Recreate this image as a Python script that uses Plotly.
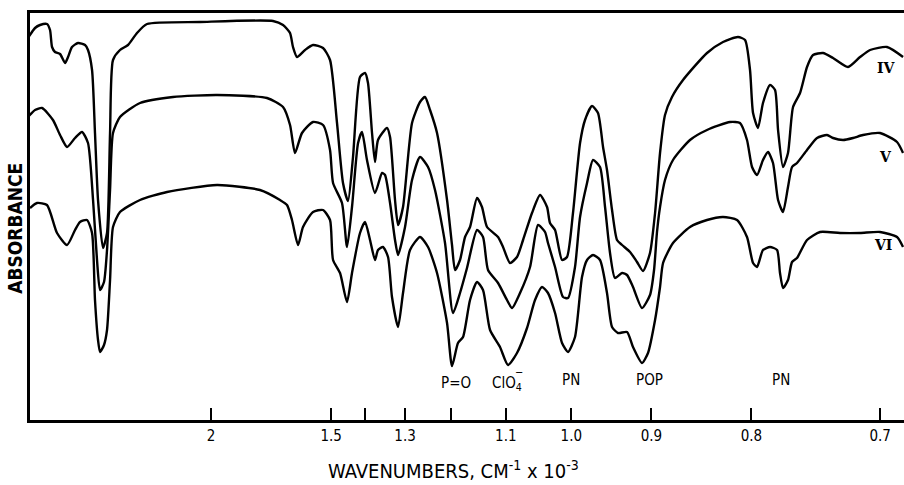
import plotly.graph_objects as go

# Spectra (x = wavelength in micrometres, i.e. 10 / (wavenumber x 10^-3);
# y = relative absorbance trace height, arbitrary units)
iv_x = [2.459, 2.557, 2.626, 2.723, 2.765, 2.793, 2.834, 2.904, 2.973, 3.015, 3.070, 3.153, 3.251, 3.292,
        3.348, 3.389, 3.431, 3.500, 3.556, 3.598, 3.639, 3.736, 3.847, 3.972, 4.111, 4.847, 5.860, 5.999,
        6.096, 6.137, 6.193, 6.304, 6.415, 6.554, 6.651, 6.748, 6.831, 6.901, 6.970, 7.067, 7.137, 7.178,
        7.234, 7.275, 7.317, 7.442, 7.484, 7.553, 7.595, 7.664, 7.789, 7.900, 7.969, 8.039, 8.136, 8.275,
        8.344, 8.386, 8.455, 8.525, 8.594, 8.691, 8.760, 8.830, 8.983, 9.052, 9.149, 9.246, 9.330, 9.454,
        9.566, 9.663, 9.704, 9.774, 9.871, 9.940, 10.023, 10.121, 10.190, 10.287, 10.370, 10.440, 10.495,
        10.565, 10.634, 10.704, 10.815, 10.912, 10.995, 11.092, 11.162, 11.231, 11.300, 11.397, 11.550,
        11.883, 12.105, 12.313, 12.411, 12.480, 12.522, 12.591, 12.660, 12.758, 12.827, 12.869, 12.938,
        13.007, 13.077, 13.174, 13.271, 13.354, 13.493, 13.632, 13.840, 14.007, 14.146, 14.381, 14.604]
iv_y = [382, 392, 395, 396, 390, 373, 368, 366, 357, 363, 373, 377, 375, 370,
        350, 287, 220, 172, 187, 287, 360, 370, 375, 387, 396, 398, 399, 395,
        387, 373, 363, 370, 375, 372, 360, 297, 237, 219, 263, 343, 347, 337,
        287, 258, 280, 292, 283, 220, 195, 213, 297, 318, 323, 310, 287, 220,
        175, 150, 160, 183, 193, 222, 213, 193, 183, 173, 157, 163, 180, 207,
        225, 213, 197, 190, 160, 163, 207, 277, 300, 314, 307, 273, 250,
        210, 180, 175, 168, 158, 149, 167, 207, 267, 305, 323, 340,
        367, 378, 383, 380, 350, 307, 292, 317, 335, 330, 290, 253,
        267, 313, 327, 353, 365, 367, 362, 353, 363, 370, 373, 363]

v_x = [2.459, 2.557, 2.654, 2.806, 2.904, 3.001, 3.112, 3.209, 3.292, 3.362, 3.417, 3.459, 3.514, 3.556,
       3.598, 3.639, 3.736, 4.014, 4.472, 5.083, 5.776, 5.999, 6.096, 6.165, 6.262, 6.415, 6.554, 6.651,
       6.693, 6.817, 6.887, 6.956, 7.040, 7.095, 7.164, 7.275, 7.373, 7.414, 7.484, 7.553, 7.595, 7.692,
       7.789, 7.900, 8.011, 8.108, 8.247, 8.358, 8.455, 8.552, 8.691, 8.774, 8.844, 8.983, 9.107, 9.177,
       9.288, 9.427, 9.538, 9.635, 9.676, 9.774, 9.885, 9.954, 10.051, 10.121, 10.218, 10.301, 10.398,
       10.468, 10.537, 10.606, 10.704, 10.773, 10.856, 10.981, 11.092, 11.148, 11.189, 11.231, 11.300,
       11.411, 11.647, 11.883, 12.203, 12.341, 12.438, 12.508, 12.577, 12.660, 12.730, 12.799, 12.869,
       12.938, 13.007, 13.063, 13.132, 13.271, 13.410, 13.549, 13.632, 13.771, 13.910, 14.048, 14.284,
       14.520, 14.604]
v_y = [303, 310, 312, 300, 285, 273, 282, 288, 277, 220, 160, 130, 138, 170,
       230, 287, 303, 317, 323, 325, 322, 313, 295, 267, 287, 298, 295, 270,
       237, 217, 173, 213, 277, 288, 260, 227, 247, 245, 217, 180, 165, 193,
       240, 263, 253, 230, 177, 107, 127, 152, 190, 183, 150, 137, 120, 112,
       127, 153, 195, 188, 177, 153, 123, 122, 153, 203, 237, 260, 253,
       213, 167, 142, 147, 145, 133, 112, 125, 150, 188, 213, 240,
       260, 280, 290, 298, 297, 280, 253, 245, 260, 268, 257, 220,
       208, 233, 253, 257, 270, 282, 285, 282, 280, 282, 285, 287,
       278, 267]

vi_x = [2.487, 2.584, 2.723, 2.862, 3.001, 3.112, 3.181, 3.278, 3.348, 3.389, 3.431, 3.459, 3.514, 3.556,
        3.598, 3.639, 3.736, 4.014, 4.389, 5.083, 5.679, 5.957, 6.054, 6.123, 6.207, 6.276, 6.415, 6.554,
        6.651, 6.693, 6.790, 6.887, 6.956, 7.067, 7.137, 7.206, 7.275, 7.317, 7.386, 7.456, 7.511, 7.595,
        7.664, 7.761, 7.900, 8.011, 8.136, 8.275, 8.344, 8.427, 8.497, 8.594, 8.691, 8.774, 8.872, 9.010,
        9.121, 9.246, 9.385, 9.496, 9.593, 9.676, 9.774, 9.871, 9.954, 10.051, 10.148, 10.218, 10.301,
        10.398, 10.495, 10.565, 10.648, 10.773, 10.856, 10.981, 11.064, 11.162, 11.231, 11.273, 11.411,
        11.647, 11.883, 12.105, 12.300, 12.438, 12.522, 12.577, 12.660, 12.758, 12.855, 12.896, 12.938,
        13.007, 13.063, 13.132, 13.271, 13.452, 13.729, 14.007, 14.284, 14.520, 14.604]
vi_y = [212, 217, 215, 187, 175, 190, 198, 200, 187, 120, 80, 68, 75, 90,
        140, 193, 208, 220, 228, 235, 230, 220, 215, 200, 175, 193, 208, 210,
        200, 160, 147, 118, 147, 187, 198, 180, 160, 170, 173, 163, 123, 93,
        127, 170, 183, 173, 147, 97, 54, 77, 83, 120, 138, 130, 90, 73,
        55, 67, 92, 120, 133, 127, 107, 77, 68, 83, 143, 160, 165,
        160, 127, 93, 87, 88, 73, 57, 67, 100, 133, 157, 177,
        193, 200, 203, 200, 183, 157, 153, 170, 173, 170, 147, 132,
        140, 158, 162, 180, 188, 187, 187, 188, 183, 173]

tick_wavenumbers = [2.0, 1.5, 1.3, 1.1, 1.0, 0.9, 0.8, 0.7]
tick_labels = ["2", "1.5", "1.3", "1.1", "1.0", "0.9", "0.8", "0.7"]
unlabelled_tick_wavenumbers = [1.4, 1.2]

band_labels = ["P=O", "ClO<sub>4</sub>", "PN", "POP", "PN"]
band_wavenumbers = [1.19, 1.098, 1.0, 0.902, 0.775]
band_heights = [37, 37, 40, 40, 40]

series_names = ["IV", "V", "VI"]
series_label_x = [14.38, 14.36, 14.33]
series_label_y = [352, 263, 175]

fig = go.Figure()
for xs, ys, nm in [(iv_x, iv_y, "IV"), (v_x, v_y, "V"), (vi_x, vi_y, "VI")]:
    fig.add_trace(go.Scatter(x=xs, y=ys, mode="lines", name=nm,
                             line=dict(color="black", width=2.4, shape="spline", smoothing=0.6),
                             showlegend=False, hoverinfo="skip"))

narrow = "Liberation Sans Narrow, DejaVu Sans Condensed, Arial Narrow, sans-serif"

for txt, wn, h in zip(band_labels, band_wavenumbers, band_heights):
    fig.add_annotation(x=10.0 / wn, y=h, text=txt, showarrow=False,
                       font=dict(family=narrow, size=15, color="black"))
# superscript charge on perchlorate label
fig.add_annotation(x=10.0 / band_wavenumbers[1], y=band_heights[1], text="−", showarrow=False,
                   xshift=12, yshift=11, font=dict(family=narrow, size=11, color="black"))

for nm, lx, ly in zip(series_names, series_label_x, series_label_y):
    fig.add_annotation(x=lx, y=ly, text="<b>" + nm + "</b>", showarrow=False,
                       font=dict(family="DejaVu Serif, Liberation Serif, serif", size=14, color="black"))

fig.add_annotation(x=0.485, y=-0.123, xref="paper", yref="paper", yanchor="middle",
                   text="WAVENUMBERS, CM<sup>-1</sup> x 10<sup>-3</sup>", showarrow=False,
                   font=dict(family=narrow, size=20, color="black"))
fig.add_annotation(x=-0.017, y=0.47, xref="paper", yref="paper", textangle=-90,
                   xanchor="center", yanchor="middle",
                   text="<b>ABSORBANCE</b>", showarrow=False,
                   font=dict(family=narrow, size=19, color="black"))

fig.update_xaxes(range=[2.487, 14.617], tickmode="array",
                 tickvals=[10.0 / w for w in tick_wavenumbers],
                 ticktext=tick_labels, ticks="inside", ticklen=12, tickwidth=2, tickcolor="black",
                 minor=dict(tickmode="array", tickvals=[10.0 / w for w in unlabelled_tick_wavenumbers],
                            ticks="inside", ticklen=12, tickwidth=2, tickcolor="black", showgrid=False),
                 showline=True, linecolor="black", linewidth=2.5, mirror=True,
                 showgrid=False, zeroline=False,
                 tickfont=dict(family=narrow, size=15, color="black"))
fig.update_yaxes(range=[0, 407], showticklabels=False, ticks="", showline=True,
                 linecolor="black", linewidth=2.5, showgrid=False, zeroline=False)

fig.update_layout(width=904, height=485, margin=dict(l=30, r=0, t=13, b=65),
                  paper_bgcolor="white", plot_bgcolor="white")

fig.write_html("out.html")
